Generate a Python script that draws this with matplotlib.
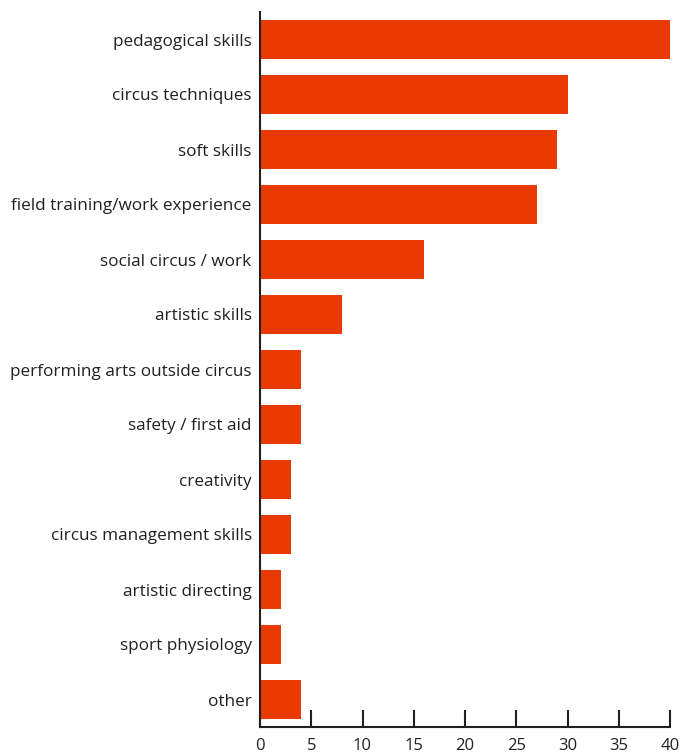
import matplotlib.pyplot as plt
import numpy as np

# Datos
categorias = ['pedagogical skills', 'circus techniques', 'soft skills',
              'field training/work experience', 'social circus / work',
              'artistic skills', 'performing arts outside circus',
              'safety / first aid', 'creativity', 'circus management skills',
              'artistic directing', 'sport physiology', 'other']
valores = [40, 30, 29, 27, 16, 8, 4, 4, 3, 3, 2, 2, 4]
ticks_x = [0, 5, 10, 15, 20, 25, 30, 35, 40]

plt.rcParams['font.family'] = ['Open Sans', 'DejaVu Sans']

fig = plt.figure(figsize=(6.83, 7.53), dpi=100)
ax = fig.add_axes([260 / 683, 26 / 753, 410 / 683, 715 / 753])

posiciones = np.arange(len(categorias))
ax.barh(posiciones, valores, height=0.71, color='#e83a02')

ax.set_ylim(len(categorias) - 0.5, -0.5)
ax.set_xlim(0, 40)
ax.set_yticks(posiciones)
ax.set_yticklabels(categorias, fontsize=12.3, color='#231f20')
ax.set_xticks(ticks_x)
ax.set_xticklabels([str(t) for t in ticks_x], fontsize=12, color='#231f20')

ax.tick_params(axis='y', length=0, pad=6)
ax.tick_params(axis='x', direction='in', length=12.5, width=1.5, color='#231f20', pad=8)

for lado in ['top', 'right']:
    ax.spines[lado].set_visible(False)
for lado in ['left', 'bottom']:
    ax.spines[lado].set_linewidth(1.5)
    ax.spines[lado].set_color('#231f20')

fig.savefig('out.png', dpi=100)
